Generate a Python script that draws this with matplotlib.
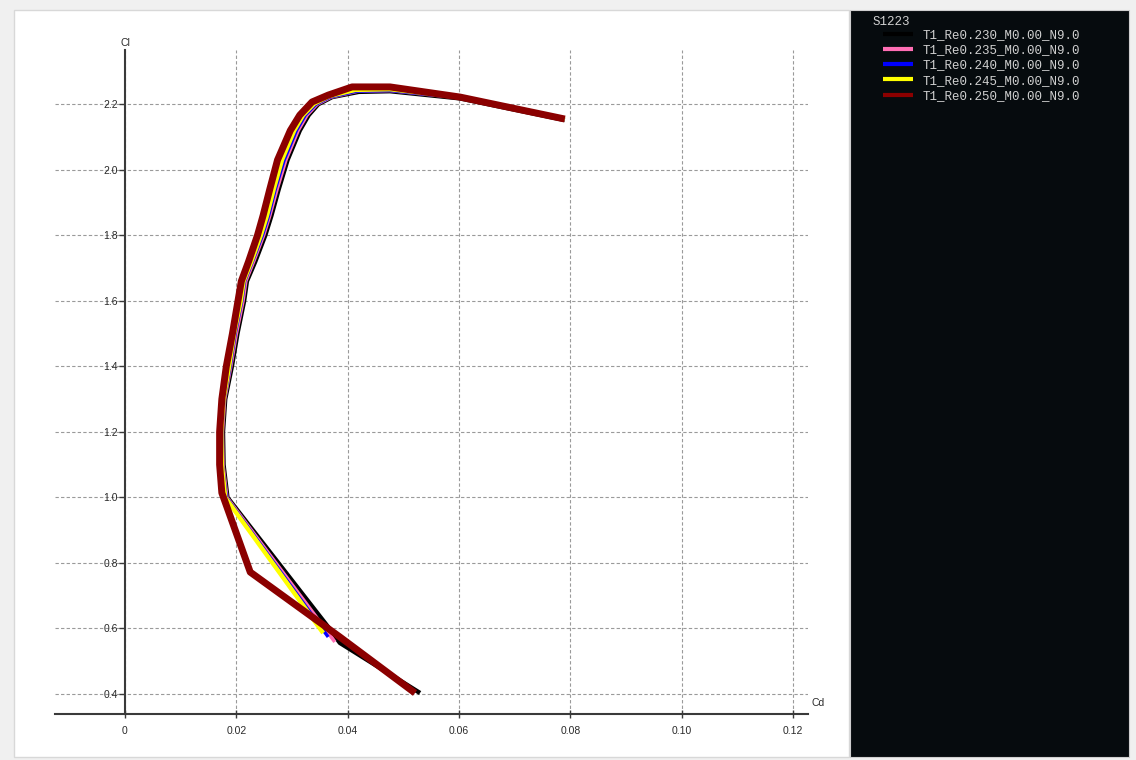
import matplotlib.pyplot as plt
from matplotlib.patches import Rectangle

W, H = 1136, 760

# polar data (Cd, Cl)
cl_230 = [0.403, 0.556, 0.589, 1.00, 1.10, 1.20, 1.30, 1.40, 1.50, 1.60, 1.66, 1.72, 1.80,
          1.86, 1.94, 2.03, 2.12, 2.167, 2.200, 2.222, 2.238, 2.240, 2.218, 2.152]
cd_230 = [0.0530, 0.0386, 0.0372, 0.0184, 0.0177, 0.0176, 0.0180, 0.0192, 0.0202, 0.0214, 0.0219,
          0.0234, 0.0252, 0.0263, 0.0276, 0.0292, 0.0314, 0.0330, 0.0347, 0.0372, 0.0420, 0.0476,
          0.0602, 0.0790]

cl_235 = [0.559, 1.00, 1.10, 1.20, 1.30, 1.40, 1.50, 1.60, 1.66, 1.72, 1.80,
          1.86, 1.94, 2.03, 2.12, 2.167, 2.200, 2.222, 2.240, 2.242, 2.220, 2.153]
cd_235 = [0.0377, 0.0183, 0.0176, 0.0175, 0.0179, 0.0190, 0.0200, 0.0212, 0.0217, 0.0231, 0.0249,
          0.0260, 0.0273, 0.0289, 0.0311, 0.0327, 0.0345, 0.0370, 0.0418, 0.0476, 0.0602, 0.0790]

cl_240 = [0.574, 1.00, 1.10, 1.20, 1.30, 1.40, 1.50, 1.60, 1.66, 1.72, 1.80,
          1.86, 1.94, 2.03, 2.12, 2.167, 2.200, 2.222, 2.240, 2.242, 2.220, 2.153]
cd_240 = [0.0365, 0.0182, 0.0175, 0.0174, 0.0178, 0.0189, 0.0198, 0.0210, 0.0215, 0.0229, 0.0247,
          0.0258, 0.0270, 0.0286, 0.0308, 0.0324, 0.0343, 0.0368, 0.0416, 0.0476, 0.0602, 0.0790]

cl_245 = [0.586, 1.00, 1.10, 1.20, 1.30, 1.40, 1.50, 1.60, 1.66, 1.72, 1.80,
          1.86, 1.94, 2.03, 2.12, 2.167, 2.202, 2.225, 2.244, 2.246, 2.222, 2.154]
cd_245 = [0.0356, 0.0180, 0.0174, 0.0173, 0.0177, 0.0187, 0.0196, 0.0208, 0.0213, 0.0227, 0.0244,
          0.0255, 0.0267, 0.0282, 0.0304, 0.0320, 0.0340, 0.0367, 0.0414, 0.0476, 0.0602, 0.0790]

cl_250 = [0.403, 0.574, 0.772, 1.014, 1.10, 1.20, 1.30, 1.40, 1.50, 1.60, 1.66, 1.72, 1.80,
          1.86, 1.94, 2.03, 2.12, 2.167, 2.207, 2.228, 2.253, 2.253, 2.222, 2.155]
cd_250 = [0.0521, 0.0386, 0.0225, 0.0174, 0.0170, 0.0170, 0.0174, 0.0182, 0.0193, 0.0203, 0.0209,
          0.0222, 0.0238, 0.0248, 0.0260, 0.0274, 0.0297, 0.0314, 0.0336, 0.0365, 0.0408, 0.0476,
          0.0602, 0.0790]

labels = ["T1_Re0.230_M0.00_N9.0", "T1_Re0.235_M0.00_N9.0", "T1_Re0.240_M0.00_N9.0",
          "T1_Re0.245_M0.00_N9.0", "T1_Re0.250_M0.00_N9.0"]
colors = ["#000000", "#ff6eb4", "#0000ff", "#ffff00", "#8b0000"]
widths = [3.2, 2.6, 2.4, 3.2, 5.0]

xticks = [0, 0.02, 0.04, 0.06, 0.08, 0.10, 0.12]
xticklabels = ["0", "0.02", "0.04", "0.06", "0.08", "0.10", "0.12"]
yticks = [0.4, 0.6, 0.8, 1.0, 1.2, 1.4, 1.6, 1.8, 2.0, 2.2]
yticklabels = ["0.4", "0.6", "0.8", "1.0", "1.2", "1.4", "1.6", "1.8", "2.0", "2.2"]


def box(x0, y0, x1, y1):
    return [x0 / W, 1 - y1 / H, (x1 - x0) / W, (y1 - y0) / H]


fig = plt.figure(figsize=(W / 100, H / 100), dpi=100, facecolor="#f0f0f0")

# white plot panel and dark legend panel
b = box(14, 10, 849, 757)
fig.add_artist(Rectangle((b[0], b[1]), b[2], b[3], transform=fig.transFigure,
                         fc="white", ec="#d8d8d8", lw=1, zorder=0))
b = box(850, 10, 1129, 757)
fig.add_artist(Rectangle((b[0], b[1]), b[2], b[3], transform=fig.transFigure,
                         fc="#060b0e", ec="#cfcfcf", lw=0.8, zorder=0))

ax = fig.add_axes(box(55, 50, 808, 714))
ax.patch.set_alpha(0)
ax.set_xlim(-0.01257, 0.12269)
ax.set_ylim(0.3389, 2.3657)

series = [(cd_230, cl_230), (cd_235, cl_235), (cd_240, cl_240), (cd_245, cl_245), (cd_250, cl_250)]
lines = []
for (cd, cl), c, w, lab in zip(series, colors, widths, labels):
    ln, = ax.plot(cd, cl, color=c, lw=w, solid_joinstyle="round", solid_capstyle="butt", label=lab)
    lines.append(ln)

ax.spines["top"].set_visible(False)
ax.spines["right"].set_visible(False)
ax.spines["left"].set_position(("data", 0))
for s in ("left", "bottom"):
    ax.spines[s].set_color("#3a3a3a")
    ax.spines[s].set_linewidth(1.5)

ax.set_xticks(xticks, xticklabels)
ax.set_yticks(yticks, yticklabels)
ax.tick_params(axis="x", direction="inout", length=6, width=1, color="#3a3a3a", pad=6,
               labelsize=7.5, labelcolor="#2a2a2a")
ax.tick_params(axis="y", direction="out", length=4, width=1, color="#3a3a3a", pad=1,
               labelsize=7.5, labelcolor="#2a2a2a")
for t in ax.get_xticklabels() + ax.get_yticklabels():
    t.set_fontfamily("Liberation Sans")
ax.grid(True, ls=(0, (3, 2)), color="#9a9a9a", lw=0.8)
ax.set_axisbelow(True)

fig.text(125 / W, 1 - 43 / H, "Cl", ha="center", va="center", fontsize=7.5,
         family="Liberation Sans", color="#2a2a2a")
fig.text(818 / W, 1 - 703 / H, "Cd", ha="center", va="center", fontsize=7.5,
         family="Liberation Sans", color="#2a2a2a")

# legend in the dark panel
fig.text(873 / W, 1 - 22 / H, "S1223", ha="left", va="center", fontsize=9,
         family="Liberation Mono", color="#d0d0d0")
leg = fig.legend(handles=lines, labels=labels, loc="upper left",
                 bbox_to_anchor=(883 / W, 1 - 29 / H), frameon=False,
                 prop={"family": "Liberation Mono", "size": 9}, labelcolor="#d0d0d0",
                 handlelength=2.4, handletextpad=0.8, labelspacing=0.26, borderpad=0,
                 borderaxespad=0)
for ln in leg.get_lines():
    ln.set_linewidth(3)

fig.savefig("out.png", dpi=100, facecolor=fig.get_facecolor())
